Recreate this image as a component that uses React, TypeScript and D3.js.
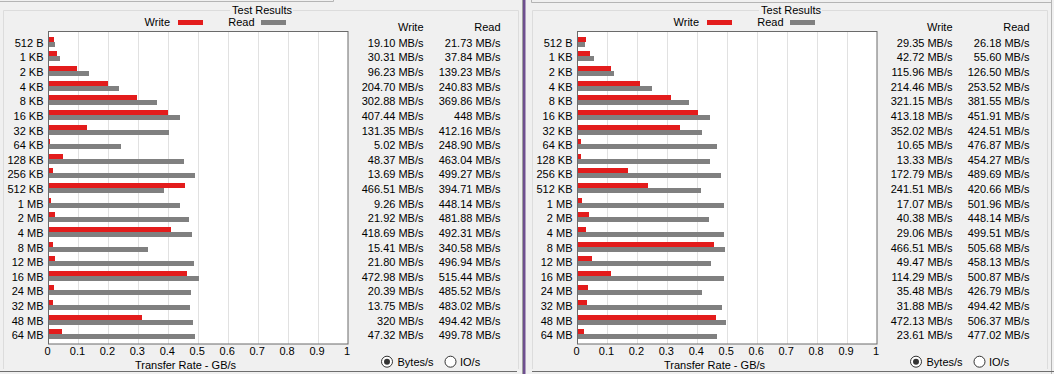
import { useEffect, useRef } from "react";
import * as d3 from "d3";

// transfer sizes tested
const sizes = [
  "512 B", "1 KB", "2 KB", "4 KB", "8 KB", "16 KB", "32 KB", "64 KB",
  "128 KB", "256 KB", "512 KB", "1 MB", "2 MB", "4 MB", "8 MB", "12 MB",
  "16 MB", "24 MB", "32 MB", "48 MB", "64 MB",
];

// left run (MB/s)
const leftWrite = [
  19.1, 30.31, 96.23, 204.7, 302.88, 407.44, 131.35, 5.02, 48.37, 13.69,
  466.51, 9.26, 21.92, 418.69, 15.41, 21.8, 472.98, 20.39, 13.75, 320, 47.32,
];
const leftRead = [
  21.73, 37.84, 139.23, 240.83, 369.86, 448, 412.16, 248.9, 463.04, 499.27,
  394.71, 448.14, 481.88, 492.31, 340.58, 496.94, 515.44, 485.52, 483.02,
  494.42, 499.78,
];

// right run (MB/s)
const rightWrite = [
  29.35, 42.72, 115.96, 214.46, 321.15, 413.18, 352.02, 10.65, 13.33, 172.79,
  241.51, 17.07, 40.38, 29.06, 466.51, 49.47, 114.29, 35.48, 31.88, 472.13,
  23.61,
];
const rightRead = [
  26.18, 55.6, 126.5, 253.52, 381.55, 451.91, 424.51, 476.87, 454.27, 489.69,
  420.66, 501.96, 448.14, 499.51, 505.68, 458.13, 500.87, 426.79, 494.42,
  506.37, 477.02,
];

const xTicks = [0, 0.1, 0.2, 0.3, 0.4, 0.5, 0.6, 0.7, 0.8, 0.9, 1];

const FONT = "'Liberation Sans', Arial, sans-serif";
const RED = "#e31c1c";
const GREY = "#808080";

const fmt = (v: number) =>
  (Number.isInteger(v) ? String(v) : v.toFixed(2)) + " MB/s";

type G = d3.Selection<SVGGElement, unknown, null, undefined>;

function drawPanel(g: G, write: number[], read: number[]) {
  const x = d3.scaleLinear().domain([0, 1]).range([48.5, 348]);
  const y = d3.scaleBand<string>().domain(sizes).range([34.4, 341.7]);
  const cy = (s: string) => Math.round((y(s) as number) + y.bandwidth() / 2);

  const text = (sel: G) =>
    sel.attr("font-family", FONT).attr("font-size", 11).attr("fill", "#000");

  // group box
  g.append("path")
    .attr("d", "M230,10.5 H3.5 V369 M293,10.5 H518.5 V369")
    .attr("fill", "none")
    .attr("stroke", "#dcdcdc");

  g.append("text")
    .attr("x", 262)
    .attr("y", 13.5)
    .attr("text-anchor", "middle")
    .text("Test Results")
    .call(text as any);

  // legend
  g.append("text").attr("x", 170).attr("y", 26).attr("text-anchor", "end")
    .text("Write").call(text as any);
  g.append("rect").attr("x", 178).attr("y", 20).attr("width", 25)
    .attr("height", 5).attr("fill", RED);
  g.append("text").attr("x", 254.5).attr("y", 26).attr("text-anchor", "end")
    .text("Read").call(text as any);
  g.append("rect").attr("x", 261).attr("y", 20).attr("width", 25)
    .attr("height", 5).attr("fill", GREY);

  // plot area
  g.append("rect")
    .attr("x", 48.5).attr("y", 31.5)
    .attr("width", 299.5).attr("height", 312.5)
    .attr("fill", "#fff");

  g.append("g")
    .selectAll("line")
    .data(xTicks.slice(1, -1))
    .join("line")
    .attr("x1", (d) => Math.round(x(d)) + 0.5)
    .attr("x2", (d) => Math.round(x(d)) + 0.5)
    .attr("y1", 32)
    .attr("y2", 344)
    .attr("stroke", "#e1e1e1");

  g.append("g")
    .selectAll("rect")
    .data(sizes)
    .join("rect")
    .attr("x", 49)
    .attr("y", (d) => cy(d) - 5)
    .attr("width", (d, i) => Math.max(1, Math.round(x(write[i] / 1024) - 49)))
    .attr("height", 5)
    .attr("fill", RED);

  g.append("g")
    .selectAll("rect")
    .data(sizes)
    .join("rect")
    .attr("x", 49)
    .attr("y", (d) => cy(d))
    .attr("width", (d, i) => Math.round(x(read[i] / 1024) - 49))
    .attr("height", 5)
    .attr("fill", GREY);

  g.append("rect")
    .attr("x", 48.5).attr("y", 31.5)
    .attr("width", 299.5).attr("height", 312.5)
    .attr("fill", "none")
    .attr("stroke", "#6a6a6a");

  // size labels
  g.append("g")
    .selectAll("text")
    .data(sizes)
    .join("text")
    .attr("x", 43.5)
    .attr("y", (d) => cy(d) + 4.5)
    .attr("text-anchor", "end")
    .attr("font-family", FONT)
    .attr("font-size", 11)
    .text((d) => d);

  // x tick labels
  g.append("g")
    .selectAll("text")
    .data(xTicks)
    .join("text")
    .attr("x", (d) => x(d) - 1)
    .attr("y", 355)
    .attr("text-anchor", "middle")
    .attr("font-family", FONT)
    .attr("font-size", 11)
    .text((d) => String(d));

  g.append("text")
    .attr("x", 185.5)
    .attr("y", 369)
    .attr("text-anchor", "middle")
    .text("Transfer Rate - GB/s")
    .call(text as any);

  // value table
  g.append("text").attr("x", 423.5).attr("y", 30.7).attr("text-anchor", "end")
    .text("Write").call(text as any);
  g.append("text").attr("x", 500.5).attr("y", 30.7).attr("text-anchor", "end")
    .text("Read").call(text as any);

  const cols: [number[], number][] = [[write, 423.5], [read, 500.5]];
  cols.forEach(([vals, cx]) => {
    g.append("g")
      .selectAll("text")
      .data(sizes)
      .join("text")
      .attr("x", cx)
      .attr("y", (d) => cy(d) + 4.5)
      .attr("text-anchor", "end")
      .attr("font-family", FONT)
      .attr("font-size", 11)
      .text((d, i) => fmt(vals[i]));
  });

  // radio buttons
  g.append("circle").attr("cx", 387).attr("cy", 361.7).attr("r", 5.5)
    .attr("fill", "#fff").attr("stroke", "#333");
  g.append("circle").attr("cx", 387).attr("cy", 361.7).attr("r", 3)
    .attr("fill", "#333");
  g.append("text").attr("x", 397.5).attr("y", 366).text("Bytes/s")
    .call(text as any);
  g.append("circle").attr("cx", 450.5).attr("cy", 361.7).attr("r", 5.5)
    .attr("fill", "#fff").attr("stroke", "#333");
  g.append("text").attr("x", 460).attr("y", 366).text("IO/s")
    .call(text as any);
}

export default function App() {
  const svgRef = useRef<SVGSVGElement>(null);

  useEffect(() => {
    if (!svgRef.current) return;
    const svg = d3.select(svgRef.current);
    svg.selectAll("*").remove();

    svg.append("rect").attr("width", 1054).attr("height", 374).attr("fill", "#f0f0f0");

    // window frames
    svg.append("path")
      .attr("d", "M0,1.5 H333.5 V0 M531.5,0 V2.5 H1051.5 M1051.5,0 V374")
      .attr("fill", "none")
      .attr("stroke", "#b4b4b4");
    svg.append("path")
      .attr("d", "M0,371.5 H517 M532,371.5 H1054")
      .attr("stroke", "#6e6e6e");
    svg.append("line")
      .attr("x1", 522.5).attr("x2", 522.5).attr("y1", 0).attr("y2", 374)
      .attr("stroke", "#a0a0a0");
    svg.append("rect")
      .attr("x", 523).attr("y", 0).attr("width", 2.5).attr("height", 374)
      .attr("fill", "#6e4f8f");

    const left = svg.append("g");
    drawPanel(left as any, leftWrite, leftRead);

    const right = svg.append("g").attr("transform", "translate(529,0)");
    drawPanel(right as any, rightWrite, rightRead);
  }, []);

  return (
    <svg
      ref={svgRef}
      width={1054}
      height={374}
      style={{ position: "absolute", left: 0, top: 0, display: "block" }}
    />
  );
}
